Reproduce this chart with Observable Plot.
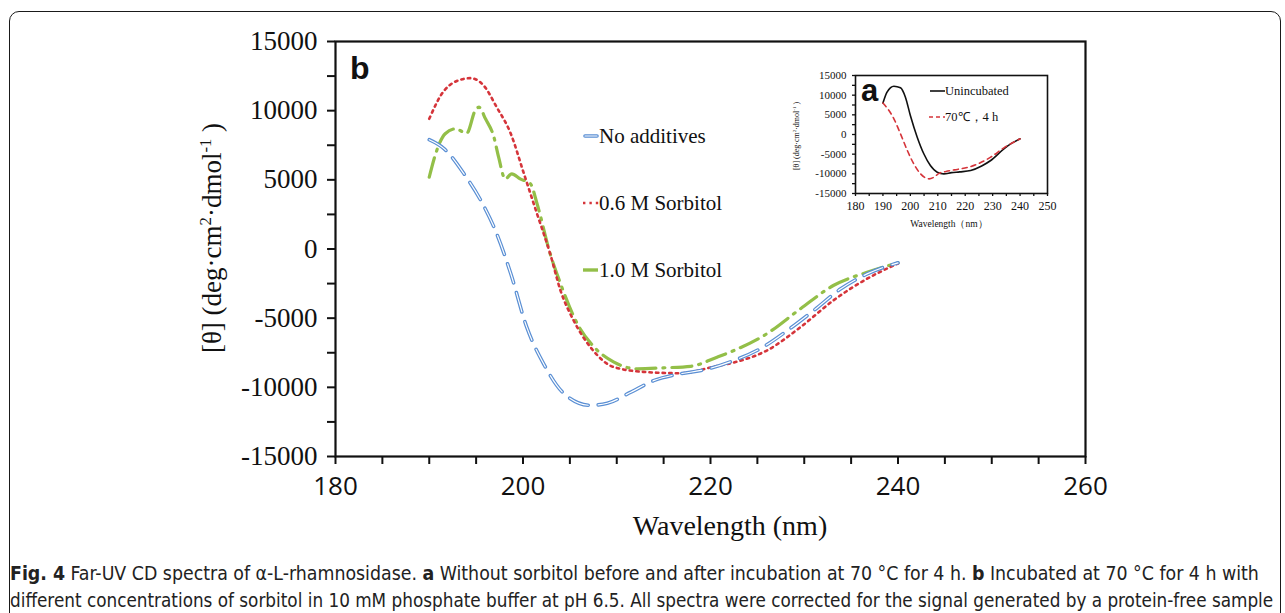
<!DOCTYPE html>
<html><head><meta charset="utf-8">
<script src="https://cdn.jsdelivr.net/npm/d3@7"></script>
<script src="https://cdn.jsdelivr.net/npm/@observablehq/plot@0.6"></script>
<style>
body{margin:0;background:#fff;}
#root{position:relative;width:1285px;height:613px;overflow:hidden;background:#fff;}
#border{position:absolute;left:9px;top:11px;width:1272px;height:640px;border:1.5px solid #1a1a1a;border-radius:10px;box-sizing:border-box;}
#root svg{position:absolute;}
</style></head>
<body><div id="root"><div id="border"></div></div>
<script>
// ---------- Panel b data (main) ----------
const seriesNames = ["No additives", "0.6 M Sorbitol", "1.0 M Sorbitol"];
const wlNoAdd = [190,191.6,193.7,195.5,197.2,198.7,200.4,202.2,204.4,207.2,209,211.5,214,216.8,219,222.5,225.3,228.2,231,233.9,236.7,240];
const thNoAdd = [7900,7240,5440,3510,1100,-1790,-5650,-8300,-10470,-11300,-11150,-10350,-9500,-9020,-8780,-8060,-7210,-5890,-4450,-2880,-1800,-1000];
const wlSorb06 = [190,191.6,193.7,194.4,195.8,197.2,198.7,200.1,201.5,202.9,204,205.4,207.2,209.7,213.2,216.8,220.4,222.5,226,229.6,233.1,236.7,240];
const thSorb06 = [9410,11460,12300,12350,11820,10250,8330,5440,2540,-350,-3000,-5170,-7100,-8540,-8900,-8980,-8500,-8200,-7340,-5650,-3720,-2150,-1050];
const wlSorb10 = [190,190.8,191.7,192.8,194,194.9,195.3,196,196.9,197.4,198.1,198.8,199.7,200.8,201.5,202.9,204,205.8,207.6,209.7,212.2,215,217.9,220.7,222.5,226,229.6,233.1,236.7,240];
const thSorb10 = [5190,7120,8330,8690,8370,10010,10250,9410,8080,6640,5070,5430,5070,4710,3270,-350,-2500,-5410,-7100,-8180,-8660,-8590,-8480,-7820,-7340,-6130,-4320,-2640,-1680,-1000];
const mainXTicks = d3.range(180, 261, 5);
const mainYTicks = d3.range(-15000, 15001, 2500);

// ---------- Panel a data (inset) ----------
const insetNames = ["Unincubated", "70℃，4 h"];
const wlUninc = [190,191.5,194,196.4,198.2,200,202.5,204.9,207.3,209.8,212.2,215,218,222,226,229.3,234.1,237,240];
const thUninc = [8000,10760,12280,11870,9480,4830,-680,-4900,-7880,-9580,-10000,-9700,-9500,-9150,-8000,-6610,-3640,-2200,-1100];
const wl70 = [190,192.2,194,196.4,198.9,201.3,203.7,206.8,208.5,210.3,213,216,222,229.3,234.1,240];
const th70 = [8000,6100,4000,170,-4070,-7540,-10000,-11270,-10900,-9950,-9400,-9000,-8140,-5760,-3390,-1100];
const insetXTicks = d3.range(180, 251, 5);
const insetYTicks = d3.range(-15000, 15001, 2500);

const captionLine1 = [["Fig. 4", true], [" Far-UV CD spectra of α-L-rhamnosidase. ", false], ["a", true], [" Without sorbitol before and after incubation at 70 °C for 4 h. ", false], ["b", true], [" Incubated at 70 °C for 4 h with", false]];
const captionLine2 = [["different concentrations of sorbitol in 10 mM phosphate buffer at pH 6.5. All spectra were corrected for the signal generated by a protein-free sample", false]];

const rows = (xs, ys) => xs.map((x, i) => ({wl: x, th: ys[i]}));
const serif = "'Liberation Serif','Times New Roman',serif";
const blue = "#5a8fd4", red = "#d5343a", green = "#93bf48";

const root = document.getElementById("root");

const main = Plot.plot({
  width: 1285, height: 560,
  marginLeft: 335, marginRight: 200, marginTop: 41, marginBottom: 104,
  style: {background: "transparent", color: "#111", fontFamily: serif},
  x: {domain: [180, 260]},
  y: {domain: [-15000, 15000]},
  marks: [
    Plot.axisY({ticks: mainYTicks, tickFormat: d => d % 5000 === 0 ? String(d) : "", tickSize: 8, tickPadding: 10, fontSize: 27, fontFamily: serif, strokeWidth: 2, label: null}),
    Plot.axisX({ticks: mainXTicks, tickFormat: d => d % 20 === 0 ? String(d) : "", tickSize: 8, tickPadding: 12, fontSize: 26, fontFamily: "'Open Sans',sans-serif", strokeWidth: 2, label: null}),
    Plot.frame({strokeWidth: 2.2}),
    Plot.line(rows(wlSorb10, thSorb10), {x: "wl", y: "th", stroke: green, strokeWidth: 3.2, strokeDasharray: "20,7,2,7", curve: "monotone-x"}),
    Plot.line(rows(wlSorb06, thSorb06), {x: "wl", y: "th", stroke: red, strokeWidth: 2.6, strokeDasharray: "2.4,4.2", curve: "monotone-x"}),
    Plot.line(rows(wlNoAdd, thNoAdd), {x: "wl", y: "th", stroke: blue, strokeWidth: 3.6, strokeDasharray: "20,10", strokeLinecap: "round", curve: "monotone-x"}),
    Plot.line(rows(wlNoAdd, thNoAdd), {x: "wl", y: "th", stroke: "#fff", strokeWidth: 1.2, strokeDasharray: "20,10", strokeLinecap: "round", curve: "monotone-x"})
  ]
});
main.style.left = "0px"; main.style.top = "0px";
root.appendChild(main);

const inset = Plot.plot({
  width: 280, height: 173,
  marginLeft: 75, marginRight: 13, marginTop: 15, marginBottom: 40,
  style: {background: "transparent", color: "#111", fontFamily: serif},
  x: {domain: [180, 250]},
  y: {domain: [-15000, 15000]},
  marks: [
    Plot.axisY({ticks: insetYTicks, tickFormat: d => d % 5000 === 0 ? String(d) : "", tickSize: 3, tickPadding: 6, fontSize: 11, fontFamily: serif, strokeWidth: 1.3, label: null}),
    Plot.axisX({ticks: insetXTicks, tickFormat: d => d % 10 === 0 ? String(d) : "", tickSize: 3, tickPadding: 5, fontSize: 12, fontFamily: serif, strokeWidth: 1.3, label: null}),
    Plot.frame({strokeWidth: 1.6}),
    Plot.line(rows(wlUninc, thUninc), {x: "wl", y: "th", stroke: "#111", strokeWidth: 1.6, curve: "monotone-x"}),
    Plot.line(rows(wl70, th70), {x: "wl", y: "th", stroke: red, strokeWidth: 1.6, strokeDasharray: "5,4", curve: "monotone-x"})
  ]
});
inset.style.left = "780px"; inset.style.top = "60px";
root.appendChild(inset);

// ---------- Overlay text: titles, legends, panel letters, caption ----------
const ov = d3.select(root).append("svg").attr("width", 1285).attr("height", 613)
  .style("left", "0px").style("top", "0px").style("pointer-events", "none");

function yTitle(x, y, size) {
  const t = ov.append("text").attr("transform", `translate(${x},${y}) rotate(-90)`)
    .attr("text-anchor", "middle").attr("font-family", serif).attr("font-size", size).attr("fill", "#111");
  t.append("tspan").text("[θ] (deg·cm");
  t.append("tspan").attr("dy", -0.38 * size).attr("font-size", size * 0.62).text("2");
  t.append("tspan").attr("dy", 0.38 * size).text("·dmol");
  t.append("tspan").attr("dy", -0.38 * size).attr("font-size", size * 0.62).text("-1");
  t.append("tspan").attr("dy", 0.38 * size).text(" )");
}
yTitle(221, 238, 27);
ov.append("text").attr("x", 730).attr("y", 535).attr("text-anchor", "middle")
  .attr("font-family", serif).attr("font-size", 28).attr("fill", "#111").text("Wavelength (nm)");

// panel letters
ov.append("text").attr("x", 350).attr("y", 79).attr("font-family", "'Liberation Sans',Arial,sans-serif")
  .attr("font-weight", "bold").attr("font-size", 32).attr("fill", "#111").text("b");
ov.append("text").attr("x", 861).attr("y", 101).attr("font-family", "'Liberation Sans',Arial,sans-serif")
  .attr("font-weight", "bold").attr("font-size", 31).attr("fill", "#111").text("a");

// main legend
const legY = [136, 203, 270];
function legText(x, y, s, size) {
  ov.append("text").attr("x", x).attr("y", y).attr("dy", "0.35em").attr("font-family", serif)
    .attr("font-size", size).attr("fill", "#111").text(s);
}
ov.append("line").attr("x1", 585).attr("x2", 597).attr("y1", legY[0]).attr("y2", legY[0]).attr("stroke", blue).attr("stroke-width", 3.6).attr("stroke-linecap", "round");
ov.append("line").attr("x1", 585).attr("x2", 597).attr("y1", legY[0]).attr("y2", legY[0]).attr("stroke", "#fff").attr("stroke-width", 1.2).attr("stroke-linecap", "round");
legText(599, legY[0], seriesNames[0], 21);
ov.append("line").attr("x1", 583).attr("x2", 599).attr("y1", legY[1]).attr("y2", legY[1]).attr("stroke", red).attr("stroke-width", 2.6).attr("stroke-dasharray", "2.4,4");
legText(599, legY[1], seriesNames[1], 21);
ov.append("line").attr("x1", 583).attr("x2", 598).attr("y1", legY[2]).attr("y2", legY[2]).attr("stroke", green).attr("stroke-width", 3.4);
legText(599, legY[2], seriesNames[2], 21);

// inset legend
ov.append("line").attr("x1", 930).attr("x2", 945).attr("y1", 91).attr("y2", 91).attr("stroke", "#111").attr("stroke-width", 1.6);
legText(945, 91, insetNames[0], 12.5);
ov.append("line").attr("x1", 929).attr("x2", 945).attr("y1", 117).attr("y2", 117).attr("stroke", red).attr("stroke-width", 1.6).attr("stroke-dasharray", "4,3");
legText(945, 117, insetNames[1], 12.5);

// inset axis titles
yTitle(799, 136, 8);
ov.append("text").attr("x", 949).attr("y", 227).attr("text-anchor", "middle")
  .attr("font-family", serif).attr("font-size", 9.5).attr("fill", "#111").text("Wavelength（nm）");

// caption: font size chosen so that each line's natural width fits the reference width
const capFont = "'Liberation Sans Narrow','DejaVu Sans Condensed','Liberation Sans',sans-serif";
function capLine(y, len, parts) {
  const t = ov.append("text").attr("x", 10).attr("y", y)
    .attr("font-family", capFont).attr("font-size", 20).attr("fill", "#222");
  parts.forEach(([s, b]) => t.append("tspan").attr("font-weight", b ? "bold" : "normal").text(s));
  const w = t.node().getComputedTextLength();
  if (w > 0) t.attr("font-size", Math.min(22, 20 * len / w));
}
capLine(580, 1250, captionLine1);
capLine(607, 1264, captionLine2);
</script>
</body></html>
